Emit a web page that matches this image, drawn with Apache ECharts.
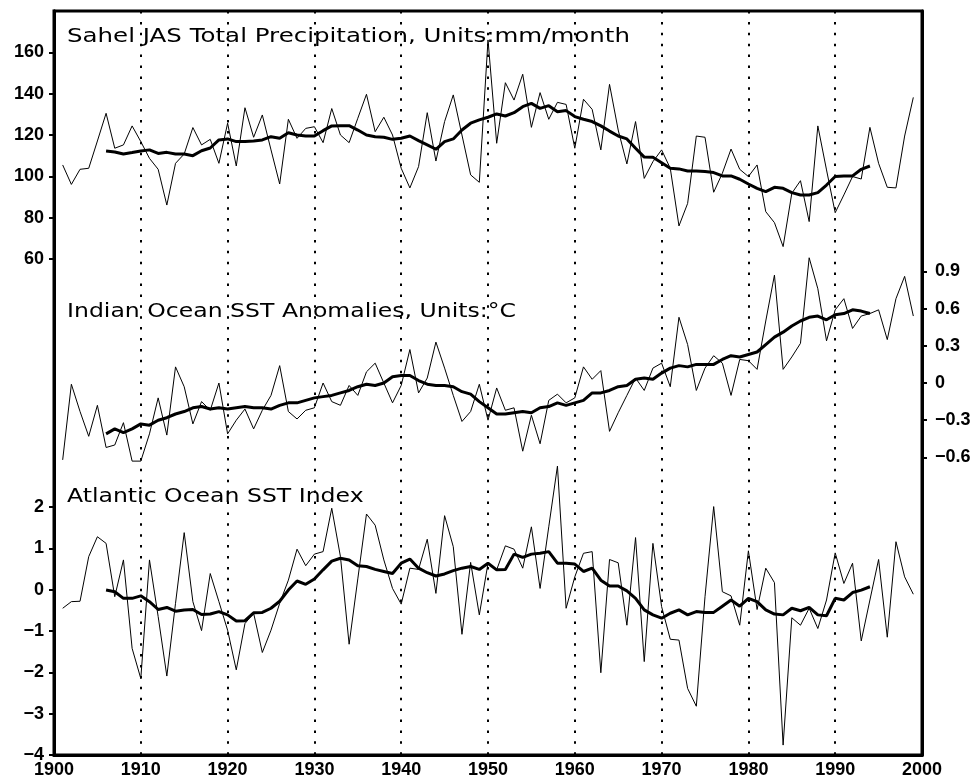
<!DOCTYPE html>
<html>
<head>
<meta charset="utf-8">
<script src="https://cdn.jsdelivr.net/npm/echarts@6/dist/echarts.min.js"></script>
<style>
  html, body { margin: 0; padding: 0; background: #fff; }
  #chart { width: 977px; height: 783px; }
</style>
</head>
<body>
<div id="chart"></div>
<script>
// Panel titles
const panelTitles = [
  'Sahel JAS Total Precipitation, Units:mm/month',
  'Indian Ocean SST Anomalies, Units:\u00B0C',
  'Atlantic Ocean SST Index'
];

// Tick labels
const yearTicks = [1900, 1910, 1920, 1930, 1940, 1950, 1960, 1970, 1980, 1990, 2000];
const sahelTicks = [60, 80, 100, 120, 140, 160];
const indianTicks = [-0.6, -0.3, 0, 0.3, 0.6, 0.9];
const atlanticTicks = [-4, -3, -2, -1, 0, 1, 2];

// Sahel July-September precipitation (mm/month), 1901-1999
const sahelAnnual = [
  105.5, 96.1, 103.4, 103.9, 117.1, 130.5, 113.6, 115.2, 124.4, 116.8,
  108.7, 103.4, 86.1, 106.3, 110.8, 123.6, 115.2, 117.9, 106.3, 125.7,
  105.0, 133.2, 118.9, 129.7, 112.8, 96.3, 127.6, 118.4, 123.2, 124.0,
  116.3, 132.8, 120.0, 116.3, 128.1, 139.7, 121.6, 128.6, 120.0, 103.9,
  94.4, 104.7, 130.8, 107.4, 126.5, 139.4, 120.0, 100.7, 97.1, 166.0,
  116.0, 145.3, 136.9, 149.4, 123.7, 140.5, 127.6, 135.8, 134.8, 113.6,
  137.3, 132.4, 112.8, 144.5, 122.4, 106.0, 126.5, 99.0, 107.1, 112.8,
  103.9, 76.0, 86.9, 119.5, 118.9, 92.3, 101.5, 113.2, 103.4, 99.9,
  105.5, 82.9, 77.6, 66.0, 91.8, 97.9, 78.1, 124.4, 103.1, 82.4,
  91.0, 99.9, 98.7, 123.7, 106.3, 94.7, 94.4, 119.5, 138.2
];
// Sahel running mean, 1906-1994
const sahelSmooth = [
  112.3, 111.8, 110.8, 111.5, 112.3, 112.8, 111.1, 111.6, 110.8, 110.8,
  110.0, 112.4, 113.7, 117.6, 118.1, 116.8, 116.9, 117.1, 117.6, 119.2,
  118.4, 121.1, 120.0, 119.5, 119.5, 122.1, 124.4, 124.5, 124.5, 122.4,
  120.0, 119.2, 118.9, 117.9, 118.4, 119.5, 117.3, 115.2, 113.1, 116.8,
  118.1, 122.4, 125.7, 127.3, 128.6, 130.2, 129.2, 130.8, 133.7, 135.3,
  132.9, 134.2, 131.3, 131.8, 128.9, 127.6, 126.5, 124.4, 121.9, 119.5,
  118.1, 113.6, 109.3, 109.2, 106.6, 103.9, 103.6, 102.6, 102.6, 102.3,
  101.8, 100.2, 100.2, 98.6, 96.3, 94.2, 92.6, 94.7, 94.2, 92.1,
  91.0, 91.0, 92.1, 95.8, 99.9, 100.2, 100.2, 103.4, 105.0
];

// Indian Ocean SST anomalies (deg C), 1901-1999
const indianAnnual = [
  -0.62, -0.01, -0.23, -0.43, -0.18, -0.52, -0.50, -0.32, -0.63, -0.63,
  -0.41, -0.12, -0.42, 0.13, -0.03, -0.33, -0.15, -0.22, 0.00, -0.41,
  -0.30, -0.21, -0.37, -0.22, -0.10, 0.14, -0.23, -0.29, -0.22, -0.20,
  0.00, -0.15, -0.18, -0.02, -0.10, 0.09, 0.16, 0.00, -0.16, -0.02,
  0.27, -0.08, 0.04, 0.33, 0.12, -0.10, -0.31, -0.23, -0.01, -0.30,
  -0.04, -0.22, -0.20, -0.55, -0.26, -0.49, -0.14, -0.09, -0.16, -0.12,
  0.13, 0.03, 0.10, -0.39, -0.24, -0.10, 0.04, -0.06, 0.12, 0.16,
  -0.03, 0.53, 0.31, -0.06, 0.12, 0.22, 0.16, -0.10, 0.19, 0.18,
  0.11, 0.50, 0.87, 0.11, 0.21, 0.32, 1.01, 0.76, 0.34, 0.59,
  0.68, 0.44, 0.54, 0.56, 0.59, 0.35, 0.68, 0.86, 0.54
];
// Indian Ocean running mean, 1906-1994
const indianSmooth = [
  -0.41, -0.37, -0.40, -0.37, -0.33, -0.34, -0.30, -0.28, -0.25, -0.23,
  -0.20, -0.19, -0.21, -0.20, -0.21, -0.20, -0.19, -0.20, -0.20, -0.21,
  -0.18, -0.16, -0.16, -0.14, -0.12, -0.11, -0.10, -0.08, -0.06, -0.03,
  -0.01, -0.02, 0.00, 0.05, 0.06, 0.06, 0.02, -0.01, -0.02, -0.02,
  -0.03, -0.07, -0.09, -0.15, -0.20, -0.25, -0.25, -0.24, -0.23, -0.24,
  -0.20, -0.19, -0.16, -0.18, -0.16, -0.14, -0.08, -0.08, -0.06, -0.03,
  -0.02, 0.03, 0.04, 0.03, 0.08, 0.12, 0.14, 0.13, 0.15, 0.15,
  0.15, 0.19, 0.22, 0.21, 0.23, 0.25, 0.31, 0.37, 0.41, 0.46,
  0.50, 0.53, 0.54, 0.51, 0.55, 0.56, 0.59, 0.58, 0.56
];

// Atlantic Ocean SST index, 1901-1999
const atlanticAnnual = [
  -0.45, -0.29, -0.28, 0.80, 1.28, 1.12, -0.17, 0.72, -1.42, -2.15,
  0.72, -0.65, -2.09, -0.33, 1.38, -0.29, -0.99, 0.39, -0.29, -0.98,
  -1.94, -0.82, -0.57, -1.52, -0.98, -0.33, 0.23, 0.98, 0.58, 0.86,
  0.92, 1.97, 0.80, -1.32, 0.26, 1.83, 1.56, 0.72, 0.03, -0.35,
  0.52, 0.49, 1.22, -0.09, 1.79, 1.04, -1.08, 0.66, -0.61, 0.64,
  0.48, 1.06, 0.98, 0.52, 1.52, 0.03, 1.52, 2.99, -0.45, 0.31,
  0.88, 0.92, -2.01, 0.73, 0.65, -0.86, 1.26, -1.74, 1.12, -0.41,
  -1.20, -1.22, -2.39, -2.82, -0.17, 2.01, -0.05, -0.15, -0.86, 0.94,
  -0.48, 0.52, 0.17, -3.76, -0.68, -0.86, -0.45, -0.94, -0.25, 0.89,
  0.15, 0.64, -1.24, -0.25, 0.73, -1.15, 1.16, 0.31, -0.11
];
// Atlantic running mean, 1906-1994
const atlanticSmooth = [
  -0.01, -0.05, -0.21, -0.21, -0.15, -0.29, -0.48, -0.43, -0.52, -0.49,
  -0.48, -0.60, -0.59, -0.53, -0.61, -0.76, -0.75, -0.56, -0.55, -0.45,
  -0.28, -0.01, 0.21, 0.13, 0.26, 0.48, 0.69, 0.76, 0.72, 0.58,
  0.56, 0.49, 0.44, 0.39, 0.64, 0.74, 0.52, 0.41, 0.33, 0.38,
  0.46, 0.52, 0.56, 0.49, 0.64, 0.48, 0.49, 0.86, 0.78, 0.86,
  0.88, 0.92, 0.64, 0.64, 0.62, 0.44, 0.52, 0.23, 0.09, 0.09,
  -0.03, -0.21, -0.49, -0.61, -0.69, -0.57, -0.49, -0.61, -0.53, -0.55,
  -0.55, -0.40, -0.25, -0.40, -0.21, -0.29, -0.49, -0.59, -0.61, -0.45,
  -0.51, -0.43, -0.61, -0.63, -0.21, -0.25, -0.07, -0.01, 0.07
];

const firstYear = 1901, firstSmoothYear = 1906;
const withYears = (start, values) => values.map((v, i) => [start + i, v]);
const minus = s => String(s).replace('-', '\u2212');

const tickFont = {
  fontFamily: 'Liberation Sans',
  fontWeight: 'bold',
  fontSize: 18,
  color: '#000'
};

function panelAxis(min, max, interval, ticks, position, margin, fmt) {
  return {
    type: 'value',
    position: position,
    min: min, max: max, interval: interval,
    axisLine: { show: true, onZero: false, lineStyle: { color: '#000', width: 3 } },
    axisTick: { show: true, inside: false, length: 5, customValues: ticks,
                lineStyle: { color: '#000', width: 2 } },
    axisLabel: Object.assign({ customValues: ticks, margin: margin, formatter: fmt }, tickFont),
    splitLine: { show: false }
  };
}

function lineSeries(axisIndex, data, width) {
  return {
    type: 'line',
    yAxisIndex: axisIndex,
    data: data,
    symbol: 'none',
    showSymbol: false,
    silent: true,
    lineStyle: { color: '#000', width: width },
    z: width > 1 ? 4 : 3
  };
}

// title placement: vertical centre of the capitals and horizontal stretch
const titleY = [37.5, 312, 497];
const titleStretch = [1.29, 1.24, 1.24];

const chart = echarts.init(document.getElementById('chart'), null, { renderer: 'canvas' });
chart.setOption({
  animation: false,
  backgroundColor: '#fff',
  grid: {
    left: 54, right: 55, top: 11, bottom: 28,
    show: true, borderColor: '#000', borderWidth: 3, backgroundColor: 'transparent'
  },
  xAxis: {
    type: 'value',
    min: yearTicks[0], max: yearTicks[yearTicks.length - 1], interval: 10,
    axisLine: { show: true, onZero: false, lineStyle: { color: '#000', width: 3 } },
    axisTick: { show: false },
    axisLabel: Object.assign({ margin: 6, customValues: yearTicks,
                               formatter: v => String(v) }, tickFont),
    splitLine: { show: true, lineStyle: { color: '#000', width: 2, type: [2.5, 8.4] } }
  },
  yAxis: [
    panelAxis(-180, 180, 20, sahelTicks, 'left', 10, v => String(v)),
    panelAxis(-4, 14, 1, atlanticTicks, 'left', 10, v => minus(v)),
    panelAxis(-3, 3, 0.3, indianTicks, 'right', 13, v => v === 0 ? '0' : minus(v.toFixed(1)))
  ],
  series: [
    lineSeries(0, withYears(firstYear, sahelAnnual), 1),
    lineSeries(0, withYears(firstSmoothYear, sahelSmooth), 3),
    lineSeries(2, withYears(firstYear, indianAnnual), 1),
    lineSeries(2, withYears(firstSmoothYear, indianSmooth), 3),
    lineSeries(1, withYears(firstYear, atlanticAnnual), 1),
    lineSeries(1, withYears(firstSmoothYear, atlanticSmooth), 3)
  ],
  graphic: panelTitles.map((t, i) => ({
    type: 'text',
    x: 67,
    y: titleY[i],
    scaleX: titleStretch[i],
    silent: true,
    z: 10,
    style: {
      text: t,
      fill: '#000',
      font: '19px "DejaVu Sans"',
      align: 'left',
      verticalAlign: 'middle'
    }
  }))
});
</script>
</body>
</html>
